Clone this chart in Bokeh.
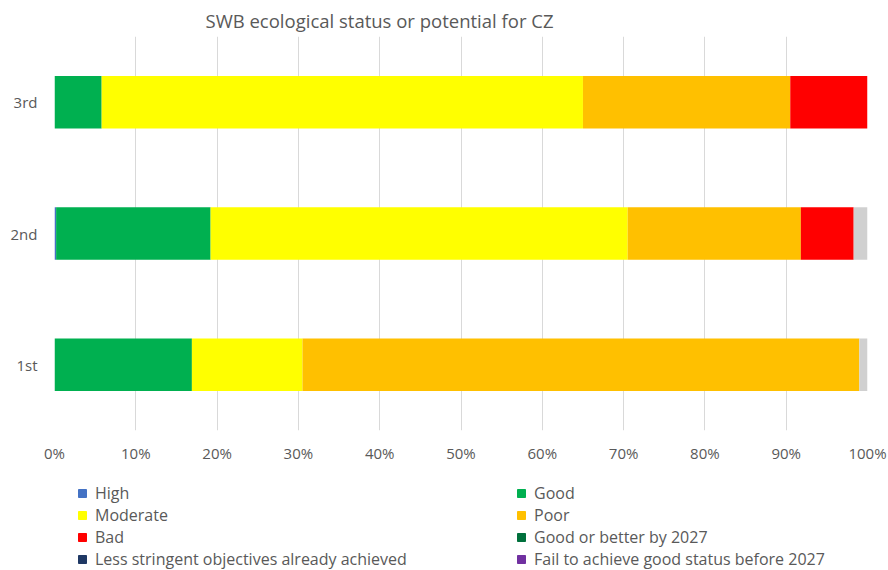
from bokeh.plotting import figure
from bokeh.layouts import column
from bokeh.models import Legend, LegendItem, FactorRange, Range1d, PrintfTickFormatter, FixedTicker, Title
from bokeh.embed import file_html
from bokeh.resources import INLINE

cycles = ["1st", "2nd", "3rd"]
series = ["High", "Good", "Moderate", "Poor", "Bad", "Good or better by 2027",
          "Less stringent objectives already achieved", "Fail to achieve good status before 2027", "Unknown"]
high = [0.0, 0.2, 0.0]
good = [16.9, 19.0, 5.8]
moderate = [13.6, 51.3, 59.2]
poor = [68.5, 21.3, 25.5]
bad = [0.0, 6.5, 9.5]
good_2027 = [0.0, 0.0, 0.0]
less_stringent = [0.0, 0.0, 0.0]
fail_2027 = [0.0, 0.0, 0.0]
unknown = [1.0, 1.7, 0.0]
x_ticks = [0, 10, 20, 30, 40, 50, 60, 70, 80, 90, 100]

colors = ["#4472C4", "#00B050", "#FFFF00", "#FFC000", "#FF0000", "#00703C", "#1F3864", "#7030A0", "#D0D0D0"]
keys = ["high", "good", "moderate", "poor", "bad", "good_2027", "less_stringent", "fail_2027", "unknown"]
data = dict(cycle=cycles, high=high, good=good, moderate=moderate, poor=poor, bad=bad,
            good_2027=good_2027, less_stringent=less_stringent, fail_2027=fail_2027, unknown=unknown)

FONT = "Open Sans"
TXT = "#595959"

p = figure(frame_width=813, frame_height=394, y_range=FactorRange(*cycles, range_padding=0),
           x_range=Range1d(0, 100), output_backend="svg", toolbar_location=None,
           min_border_left=54, min_border_right=21, min_border_top=36, min_border_bottom=30)
p.title = Title(text="SWB ecological status or potential for CZ", align="left", offset=151, standoff=8,
                text_font=FONT, text_font_size="18.5px", text_font_style="normal", text_color=TXT)

renderers = p.hbar_stack(keys, y="cycle", height=0.4, color=colors, source=data, line_width=0)

p.outline_line_color = None
p.ygrid.grid_line_color = None
p.xgrid.grid_line_color = "#D9D9D9"
p.xgrid.grid_line_width = 1
p.xaxis.ticker = FixedTicker(ticks=x_ticks)
p.xaxis.formatter = PrintfTickFormatter(format="%d%%")
for ax in (p.xaxis, p.yaxis):
    ax.axis_line_color = None
    ax.major_tick_line_color = None
    ax.minor_tick_line_color = None
    ax.major_tick_out = 0
    ax.major_tick_in = 0
    ax.minor_tick_out = 0
    ax.major_label_text_font = FONT
    ax.major_label_text_font_size = "15px"
    ax.major_label_text_color = TXT
p.xaxis.major_label_standoff = 12
p.yaxis.major_label_standoff = 17

# legend panel
q = figure(width=888, height=107, x_range=Range1d(0, 1), y_range=Range1d(0, 1),
           x_axis_location=None, y_axis_location=None,
           output_backend="svg", toolbar_location=None,
           min_border_left=0, min_border_right=0, min_border_top=0, min_border_bottom=0)
q.grid.visible = False
q.outline_line_color = None
dummies = [q.rect(x=[-5], y=[-5], width=1, height=1, color=colors[i]) for i in range(8)]
items = [LegendItem(label=series[i], renderers=[dummies[i]]) for i in range(8)]
left_items = [items[0], items[2], items[4], items[6]]
right_items = [items[1], items[3], items[5], items[7]]
for its, x in ((left_items, 23), (right_items, 462)):
    lg = Legend(items=its, location=(x, 2), orientation="vertical",
                glyph_width=10, glyph_height=10, label_height=21, spacing=0,
                padding=0, margin=0, label_standoff=8,
                label_text_font=FONT, label_text_font_size="16px", label_text_color=TXT,
                border_line_color=None, background_fill_alpha=0)
    q.add_layout(lg, "center")

layout = column(p, q, spacing=0)
open("out.html", "w").write(file_html(layout, INLINE))
